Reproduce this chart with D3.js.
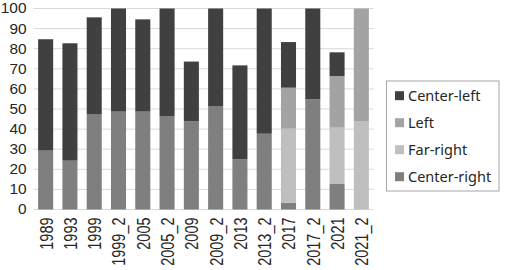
<!DOCTYPE html>
<html>
<head>
<meta charset="utf-8">
<script src="https://cdn.jsdelivr.net/npm/d3@7"></script>
<style>
  body { margin: 0; background: #fff; }
</style>
</head>
<body>
<div id="chart"></div>
<script>
// categories on the x axis
var years = ["1989", "1993", "1999", "1999_2", "2005", "2005_2", "2009", "2009_2",
             "2013", "2013_2", "2017", "2017_2", "2021", "2021_2"];
// series values (percent), stacked from bottom to top
var centerRight = [29.3, 24.3, 47.5, 48.7, 48.7, 46.5, 44.0, 51.5, 25.0, 37.7, 3.4, 54.8, 12.7, 0];
var farRight    = [0, 0, 0, 0, 0, 0, 0, 0, 0, 0, 36.8, 0, 28.0, 44.0];
var left        = [0, 0, 0, 0, 0, 0, 0, 0, 0, 0, 20.4, 0, 25.7, 56.0];
var centerLeft  = [55.4, 58.4, 48.1, 51.3, 45.9, 53.5, 29.6, 48.5, 46.7, 62.3, 22.7, 45.2, 11.8, 0];
var yTicks = [0, 10, 20, 30, 40, 50, 60, 70, 80, 90, 100];
var legendOrder = ["Center-left", "Left", "Far-right", "Center-right"];

var width = 506, height = 270;
var plot = {left: 33.5, right: 373.5, top: 8.5, bottom: 209.5};

var colors = {
  "Center-right": "#7f7f80",
  "Far-right": "#bfbfbf",
  "Left": "#a3a3a3",
  "Center-left": "#404040"
};

// build rows for d3.stack
var rows = years.map(function(y, i) {
  return {year: y, "Center-right": centerRight[i], "Far-right": farRight[i],
          "Left": left[i], "Center-left": centerLeft[i]};
});
var keys = ["Center-right", "Far-right", "Left", "Center-left"];
var series = d3.stack().keys(keys)(rows);

var svg = d3.select("#chart").append("svg")
    .attr("width", width)
    .attr("height", height);

var x_scale = d3.scaleBand().domain(years).range([plot.left, plot.right])
    .paddingInner(0.38).paddingOuter(0.19);
var y_scale = d3.scaleLinear().domain([0, 100]).range([plot.bottom, plot.top]);

// horizontal grid lines
svg.append("g").selectAll("line")
    .data(yTicks)
    .enter().append("line")
    .attr("x1", plot.left).attr("x2", plot.right)
    .attr("y1", function(d) { return y_scale(d); })
    .attr("y2", function(d) { return y_scale(d); })
    .attr("stroke", "#d9d9d9")
    .attr("stroke-width", 1);

// stacked bars
svg.append("g").selectAll("g")
    .data(series)
    .enter().append("g")
    .attr("fill", function(d) { return colors[d.key]; })
    .selectAll("rect")
    .data(function(d) { return d; })
    .enter().append("rect")
    .attr("x", function(d) { return x_scale(d.data.year); })
    .attr("y", function(d) { return y_scale(d[1]); })
    .attr("width", x_scale.bandwidth())
    .attr("height", function(d) { return y_scale(d[0]) - y_scale(d[1]); });

// y axis labels
svg.append("g").selectAll("text")
    .data(yTicks)
    .enter().append("text")
    .attr("transform", function(d) { return "translate(26.5," + y_scale(d) + ") scale(1.1,1)"; })
    .attr("dy", "0.35em")
    .attr("text-anchor", "end")
    .attr("font-family", "Liberation Sans, Arial, sans-serif")
    .attr("font-size", "14px")
    .attr("fill", "#262626")
    .text(function(d) { return d; });

// x axis labels, rotated (glyphs look wider than tall in the source)
svg.append("g").selectAll("text")
    .data(years)
    .enter().append("text")
    .attr("transform", function(d) {
      return "translate(" + (x_scale(d) + x_scale.bandwidth() / 2 + 0.5) + ",217.5) scale(1.22,1) rotate(-90)";
    })
    .attr("dy", "0.36em")
    .attr("text-anchor", "end")
    .attr("font-family", "Liberation Sans, Arial, sans-serif")
    .attr("font-size", "14.5px")
    .attr("fill", "#262626")
    .text(function(d) { return d; });

// legend box
var legend = svg.append("g");
legend.append("rect")
    .attr("x", 386.5).attr("y", 81)
    .attr("width", 112.5).attr("height", 110)
    .attr("fill", "#fff")
    .attr("stroke", "#a6a6a6");
var item = legend.selectAll(".item")
    .data(legendOrder)
    .enter().append("g")
    .attr("class", "item")
    .attr("transform", function(d, i) { return "translate(395," + (95.7 + i * 27) + ")"; });
item.append("rect")
    .attr("x", 0).attr("y", -4.5)
    .attr("width", 9).attr("height", 9)
    .attr("fill", function(d) { return colors[d]; });
item.append("text")
    .attr("x", 13)
    .attr("dy", "0.35em")
    .attr("font-family", "Noto Sans, sans-serif")
    .attr("font-size", "14.5px")
    .attr("fill", "#262626")
    .text(function(d) { return d; });
</script>
</body>
</html>
